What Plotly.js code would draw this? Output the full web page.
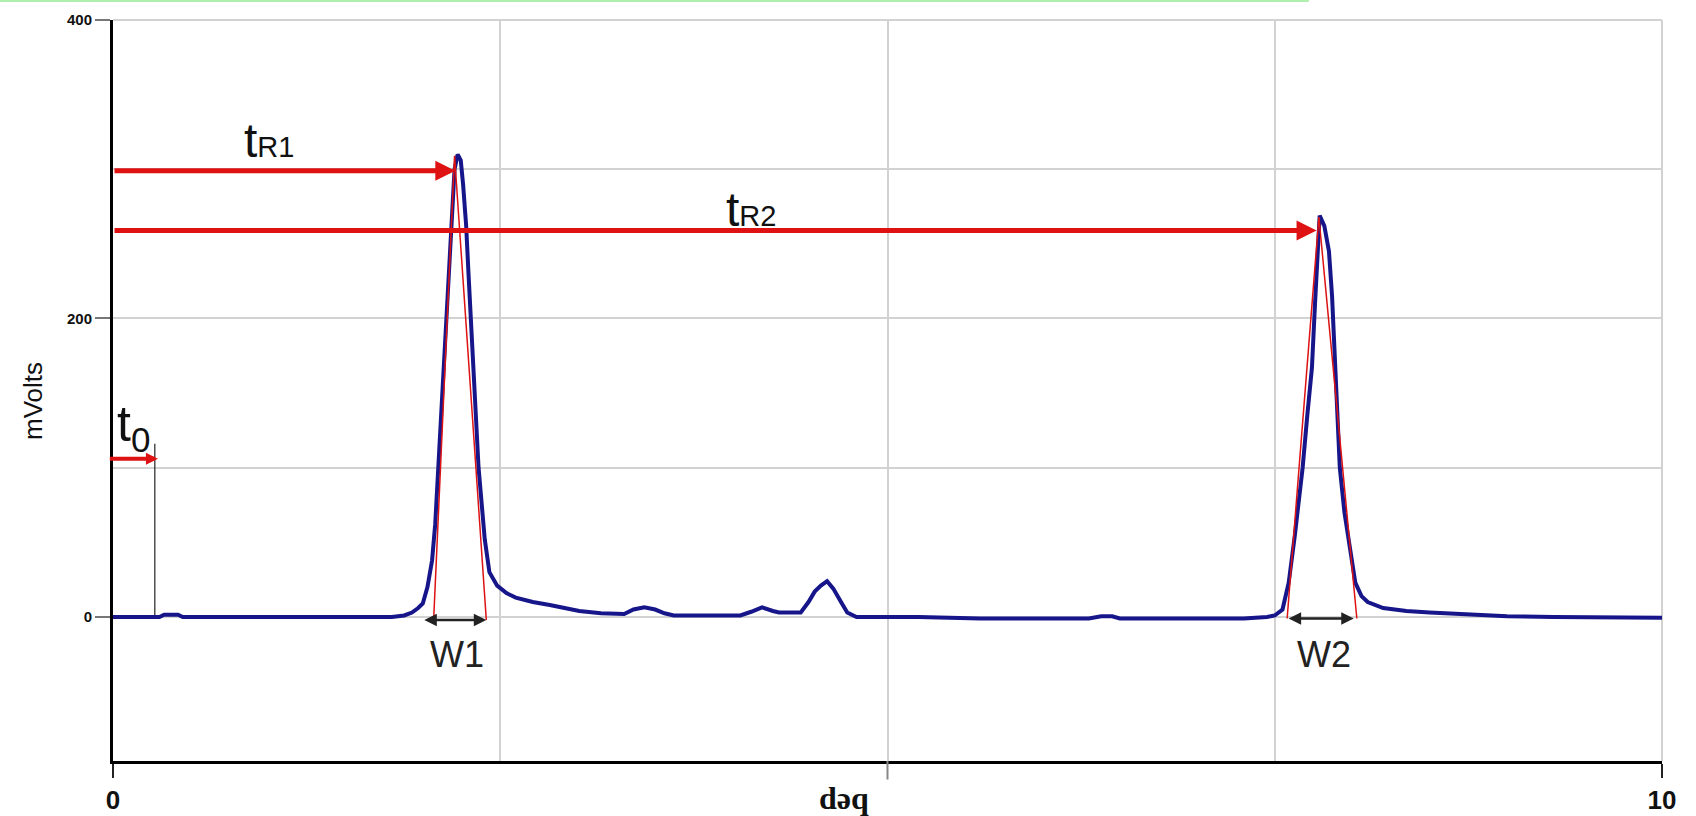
<!DOCTYPE html>
<html>
<head>
<meta charset="utf-8">
<script src="https://cdn.plot.ly/plotly-3.0.1.min.js"></script>
<style>html,body{margin:0;padding:0;background:#fff;}#chart{width:1696px;height:816px;}</style>
</head>
<body>
<div id="chart"></div>
<script>
// ---- Chromatogram signal (minutes, mVolts) ----
const timeMin = [0, 0.30, 0.33, 0.42, 0.45, 1.00, 1.50, 1.80, 1.88, 1.93, 1.97, 2.00, 2.03, 2.06, 2.08, 2.10, 2.12, 2.14, 2.16, 2.175, 2.19, 2.205, 2.225, 2.245, 2.26, 2.28, 2.295, 2.31, 2.33, 2.36, 2.40, 2.43, 2.48, 2.54, 2.60, 2.71, 2.82, 2.93, 3.01, 3.15, 3.30, 3.36, 3.43, 3.50, 3.56, 3.62, 3.90, 4.05, 4.12, 4.19, 4.26, 4.30, 4.44, 4.49, 4.53, 4.57, 4.61, 4.65, 4.70, 4.74, 4.80, 5.20, 5.60, 6.30, 6.38, 6.45, 6.50, 7.30, 7.45, 7.50, 7.55, 7.59, 7.63, 7.68, 7.71, 7.74, 7.76, 7.775, 7.79, 7.82, 7.85, 7.87, 7.89, 7.92, 7.95, 7.97, 8.00, 8.02, 8.06, 8.10, 8.20, 8.35, 8.50, 8.70, 9.00, 9.30, 9.60, 10.0];
const mVolts  = [0, 0, 1.5, 1.5, 0, 0, 0, 0, 1, 3, 6, 9, 20, 38, 62, 100, 140, 185, 222, 252, 280, 300, 310, 306, 290, 262, 230, 200, 163, 100, 52, 30, 21, 16, 13, 10, 8, 6, 4, 2.5, 2, 5, 6.5, 5, 2.5, 1, 1, 1, 3.5, 6.5, 4, 3, 3, 10, 17, 21, 24, 19, 10, 3, 0, 0, -1, -1, 0.5, 0.5, -1, -1, 0, 1, 5, 23, 55, 100, 135, 167, 210, 245, 269, 262, 245, 215, 167, 100, 70, 56, 35, 23, 14, 10, 6, 4, 3, 2, 0.5, 0, -0.5, -0.5];

// ---- Tangent (triangulation) lines of the two peaks ----
const tangent1T = [2.07, 2.205, 2.41];
const tangent1V = [-2, 309, -2];
const tangent2T = [7.58, 7.785, 8.03];
const tangent2V = [-1, 268, -1];

// ---- Retention-time arrows ----
const tRMain   = ['t', 't'];
const tRSub    = ['R1', 'R2'];
const tRTimes  = [2.21, 7.77];
const tRLevels = [299, 259];
const tRLabelT = [1.01, 4.12];
const tRLabelV = [319, 273];

// ---- Dead time t0 ----
const t0Main = 't';
const t0Sub = '0';
const t0ArrowTail = -0.03;
const t0ArrowHead = 0.29;
const t0ArrowLevel = 106;
const t0LineT = [0.27, 0.27];
const t0LineV = [0, 116];
const t0LabelT = 0.13;
const t0LabelV = 127;

// ---- Peak widths ----
const wLabels = ['W1', 'W2'];
const wStart  = [2.00, 7.58];
const wEnd    = [2.41, 8.01];
const wLevel  = [-2, -1];
const wLabelT = [2.22, 7.82];
const wLabelV = [-25, -25];

// ---- Axis ticks ----
const xTickVals = [0, 10];
const xTickText = ['0', '10'];
const xGridVals = [2.5, 5, 7.5];
const xMidTick = 5;
const yTickVals = [0, 200, 400];
const yTickText = ['0', '200', '400'];
const yMinorGrid = [100, 300];

const RED = 'rgb(222,18,18)';
const BLUE = 'rgb(22,22,138)';
const GRID = '#d2d2d2';
const SANS = 'Liberation Sans, Arial, sans-serif';

const traces = [
  {x: t0LineT, y: t0LineV, type: 'scatter', mode: 'lines', line: {color: '#222', width: 1.2}, hoverinfo: 'skip'},
  {x: timeMin, y: mVolts, type: 'scatter', mode: 'lines', line: {color: BLUE, width: 4}, hoverinfo: 'skip'},
  {x: tangent1T, y: tangent1V, type: 'scatter', mode: 'lines', line: {color: RED, width: 1.5}, hoverinfo: 'skip'},
  {x: tangent2T, y: tangent2V, type: 'scatter', mode: 'lines', line: {color: RED, width: 1.5}, hoverinfo: 'skip'}
];

const annotations = [];
for (let i = 0; i < tRTimes.length; i++) {
  annotations.push({x: tRTimes[i], y: tRLevels[i], xref: 'x', yref: 'y', ax: 0, ay: tRLevels[i], axref: 'x', ayref: 'y',
    text: '', showarrow: true, arrowhead: 2, arrowsize: 0.8, arrowwidth: 5, arrowcolor: RED, standoff: 0, startstandoff: 0});
  annotations.push({x: tRLabelT[i], y: tRLabelV[i], xref: 'x', yref: 'y',
    text: tRMain[i] + '<span style="font-size:29px">' + tRSub[i] + '</span>', showarrow: false,
    font: {family: SANS, size: 48, color: '#111'}});
}
annotations.push({x: t0ArrowHead, y: t0ArrowLevel, xref: 'x', yref: 'y', ax: t0ArrowTail, ay: t0ArrowLevel, axref: 'x', ayref: 'y',
  text: '', showarrow: true, arrowhead: 2, arrowsize: 0.6, arrowwidth: 4, arrowcolor: RED, standoff: 0});
annotations.push({x: t0LabelT, y: t0LabelV, xref: 'x', yref: 'y', text: t0Main + '<sub>' + t0Sub + '</sub>', showarrow: false,
  font: {family: SANS, size: 50, color: '#111'}});
for (let i = 0; i < wStart.length; i++) {
  annotations.push({x: wEnd[i], y: wLevel[i], xref: 'x', yref: 'y', ax: wStart[i], ay: wLevel[i], axref: 'x', ayref: 'y',
    text: '', showarrow: true, arrowhead: 2, startarrowhead: 2, arrowside: 'end+start', arrowsize: 1, startarrowsize: 1,
    arrowwidth: 2.5, arrowcolor: '#222', standoff: 0, startstandoff: 0});
  annotations.push({x: wLabelT[i], y: wLabelV[i], xref: 'x', yref: 'y', text: wLabels[i], showarrow: false,
    font: {family: SANS, size: 36, color: '#222'}});
}
// axis titles
annotations.push({x: 4.72, y: -0.05, xref: 'x', yref: 'paper', text: '<b>dəq</b>', showarrow: false, yanchor: 'middle', xanchor: 'center',
  font: {family: 'Liberation Serif, Times New Roman, serif', size: 32, color: '#111'}});
annotations.push({x: -0.052, y: 145, xref: 'paper', yref: 'y', text: 'mVolts', showarrow: false, textangle: -90,
  xanchor: 'center', yanchor: 'middle',
  font: {family: SANS, size: 26, color: '#111'}});

const layout = {
  width: 1696, height: 816,
  margin: {l: 113, r: 34, t: 20, b: 55},
  paper_bgcolor: '#fff', plot_bgcolor: '#fff',
  showlegend: false,
  xaxis: {
    range: [0, 10], tickvals: xTickVals, ticktext: xTickText,
    ticks: 'outside', ticklen: 14, tickwidth: 2, tickcolor: '#222',
    showline: true, linecolor: '#000', linewidth: 3,
    showgrid: true, gridcolor: GRID, gridwidth: 2, zeroline: false,
    minor: {tickvals: xGridVals, showgrid: true, gridcolor: GRID, gridwidth: 2, ticks: ''},
    tickfont: {family: SANS, size: 26, color: '#111', weight: 'bold'},
    fixedrange: true
  },
  yaxis: {
    range: [-96.5, 400], tickvals: yTickVals, ticktext: yTickText,
    ticks: 'outside', ticklen: 15, tickwidth: 2, tickcolor: '#777',
    showline: true, linecolor: '#000', linewidth: 3,
    showgrid: true, gridcolor: GRID, gridwidth: 2, zeroline: false,
    minor: {tickvals: yMinorGrid, showgrid: true, gridcolor: GRID, gridwidth: 2, ticks: ''},
    tickfont: {family: SANS, size: 15, color: '#111', weight: 'bold'},
    fixedrange: true
  },
  shapes: [
    {type: 'line', xref: 'paper', yref: 'paper', x0: 0, x1: 1, y0: 1, y1: 1, line: {color: GRID, width: 2}, layer: 'below'},
    {type: 'line', xref: 'paper', yref: 'paper', x0: 1, x1: 1, y0: 0, y1: 1, line: {color: GRID, width: 2}, layer: 'below'},
    {type: 'line', xref: 'x', yref: 'paper', x0: xMidTick, x1: xMidTick, y0: 0, y1: -0.025, line: {color: '#888', width: 2}},
    {type: 'line', xref: 'paper', yref: 'paper', x0: -0.073, x1: 0.772, y0: 1.0256, y1: 1.0256, line: {color: 'rgb(175,240,175)', width: 2}}
  ],
  annotations: annotations
};

Plotly.newPlot('chart', traces, layout, {displayModeBar: false, staticPlot: true});
</script>
</body>
</html>
